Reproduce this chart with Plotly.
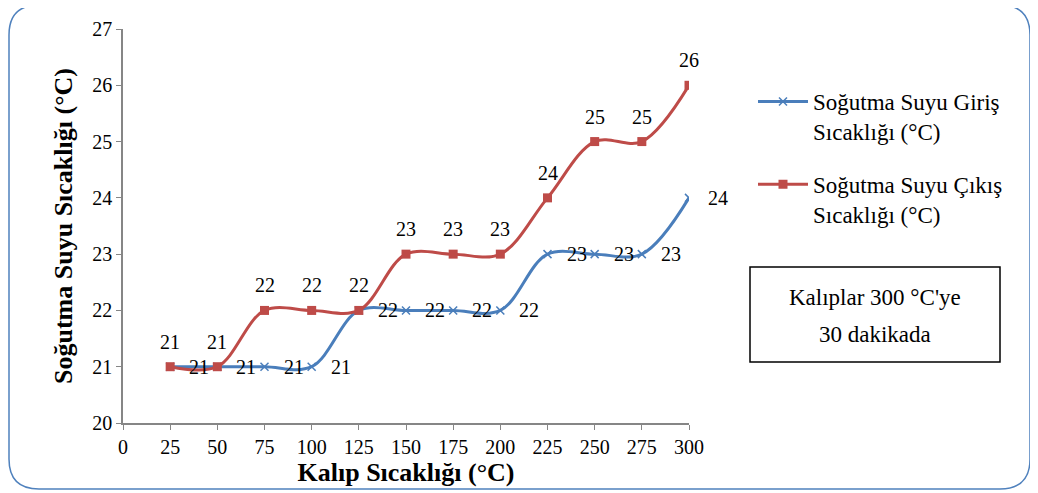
import plotly.graph_objects as go

x_vals = [25, 50, 75, 100, 125, 150, 175, 200, 225, 250, 275, 300]
giris = [21, 21, 21, 21, 22, 22, 22, 22, 23, 23, 23, 24]
cikis = [21, 21, 22, 22, 22, 23, 23, 23, 24, 25, 25, 26]
name_giris = "Soğutma Suyu Giriş<br>Sıcaklığı (°C)"
name_cikis = "Soğutma Suyu Çıkış<br>Sıcaklığı (°C)"
x_ticks = list(range(0, 301, 25))
y_ticks = list(range(20, 28))

BLUE = "#4A7EBB"
RED = "#BE4B48"
FONT = "Liberation Serif, Times New Roman, serif"

OFF = 8  # page body margin
W, H = 1038, 493
L, T = 123 - OFF, 29 - OFF
PW, PH = 566, 394
R = W - L - PW
B = H - T - PH

def px(x):
    return (x - OFF - L) / PW

def py(y):
    return (T + PH - (y - OFF)) / PH

fig = go.Figure()
fig.add_trace(go.Scatter(
    x=x_vals, y=giris, name=name_giris, mode="lines+markers", legendgroup="g",
    line=dict(color=BLUE, width=3, shape="spline", smoothing=1),
    marker=dict(symbol="x-thin", size=8, line=dict(color=BLUE, width=1.5), color=BLUE),
))
fig.add_trace(go.Scatter(
    x=x_vals, y=cikis, name=name_cikis, mode="lines+markers", legendgroup="c",
    line=dict(color=RED, width=3, shape="spline", smoothing=1),
    marker=dict(symbol="square", size=9, color=RED),
))

annotations = []
for xv, yv in zip(x_vals, giris):
    annotations.append(dict(x=xv, y=yv, xref="x", yref="y", text=str(yv), showarrow=False,
                            xanchor="center", yanchor="middle",
                            xshift=29, yshift=0, font=dict(family=FONT, size=20, color="black")))
for xv, yv in zip(x_vals, cikis):
    annotations.append(dict(x=xv, y=yv, xref="x", yref="y", text=str(yv), showarrow=False,
                            xanchor="center", yanchor="middle",
                            xshift=0, yshift=25, font=dict(family=FONT, size=20, color="black")))

annotations.append(dict(x=px(875), y=py(297), xref="paper", yref="paper", text="Kalıplar 300 °C'ye",
                        showarrow=False, xanchor="center", yanchor="middle",
                        font=dict(family=FONT, size=23, color="black")))
annotations.append(dict(x=px(875), y=py(334), xref="paper", yref="paper", text="30 dakikada",
                        showarrow=False, xanchor="center", yanchor="middle",
                        font=dict(family=FONT, size=23, color="black")))

# rounded outer border
x0, x1, y0, y1, r = 9, 1030, 5, 489, 30
pts = [
    ("M", x0 + r, y0), ("L", x1 - r, y0), ("Q", x1, y0, x1, y0 + r), ("L", x1, y1 - r),
    ("Q", x1, y1, x1 - r, y1), ("L", x0 + r, y1), ("Q", x0, y1, x0, y1 - r), ("L", x0, y0 + r),
    ("Q", x0, y0, x0 + r, y0),
]
path = ""
for p in pts:
    cmd = p[0]
    coords = p[1:]
    s = []
    for i in range(0, len(coords), 2):
        s.append(f"{px(coords[i]):.5f},{py(coords[i+1]):.5f}")
    path += cmd + " ".join(s) + " "
path += "Z"

shapes = [
    dict(type="path", path=path, xref="paper", yref="paper", line=dict(color="#4F81BD", width=1.5),
         fillcolor="rgba(0,0,0,0)", layer="below"),
    dict(type="rect", x0=px(750), x1=px(1000), y0=py(267), y1=py(362), xref="paper", yref="paper",
         line=dict(color="black", width=1.5)),
]

fig.update_layout(
    width=W, height=H,
    margin=dict(l=L, r=R, t=T, b=B, autoexpand=False),
    paper_bgcolor="white", plot_bgcolor="white",
    font=dict(family=FONT, size=20, color="black"),
    showlegend=True,
    legend=dict(x=px(753), y=py(80), xanchor="left", yanchor="top", valign="top",
                font=dict(family=FONT, size=23, color="black"),
                tracegroupgap=20, itemwidth=50, bgcolor="rgba(0,0,0,0)"),
    xaxis=dict(range=[0, 300], tickvals=x_ticks, ticktext=[str(v) for v in x_ticks],
               showline=True, linecolor="#868686", linewidth=1.5, ticks="outside", ticklen=5,
               tickcolor="#868686", showgrid=False, zeroline=False,
               tickfont=dict(family=FONT, size=20),
               title=dict(text="<b>Kalıp Sıcaklığı (°C)</b>", font=dict(family=FONT, size=26), standoff=2)),
    yaxis=dict(range=[20, 27], tickvals=y_ticks, ticktext=[str(v) for v in y_ticks],
               showline=True, linecolor="#868686", linewidth=1.5, ticks="outside", ticklen=5,
               tickcolor="#868686", showgrid=False, zeroline=False,
               tickfont=dict(family=FONT, size=20),
               title=dict(text="<b>Soğutma Suyu Sıcaklığı (°C)</b>", font=dict(family=FONT, size=26), standoff=12)),
    annotations=annotations,
    shapes=shapes,
)

fig.write_html("out.html")
